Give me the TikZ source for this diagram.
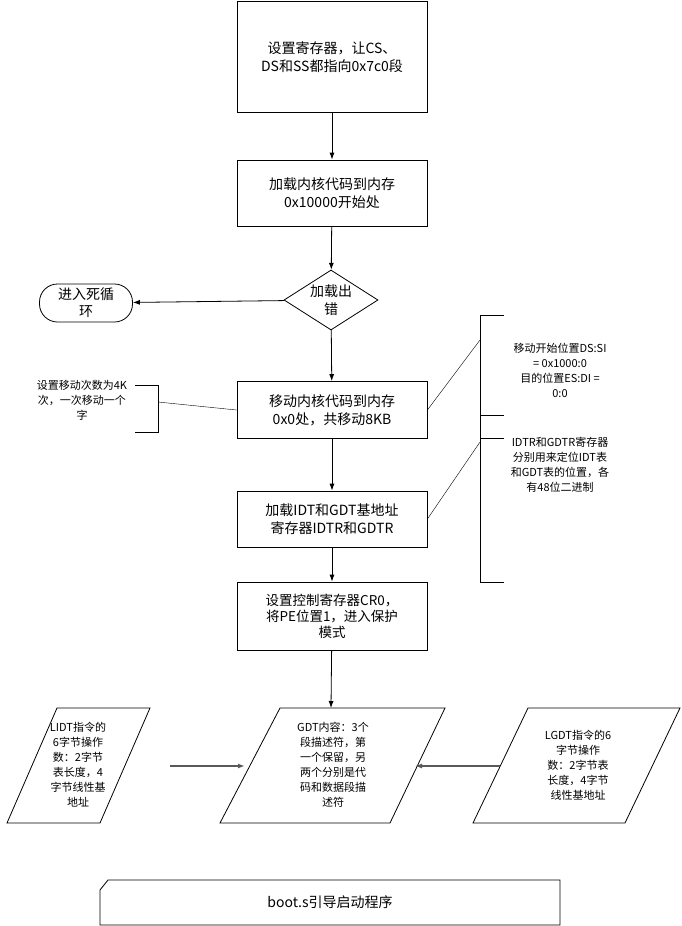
\documentclass[tikz,border=0pt]{standalone}
\usepackage{fontspec}
\setmainfont{Noto Sans CJK SC}
\usetikzlibrary{arrows.meta,shapes.geometric}
\begin{document}
\begin{tikzpicture}[x=1pt,y=-1pt,
 box/.style={draw,thick,align=center,font=\fontsize{14}{18}\selectfont},
 small/.style={align=center,font=\fontsize{11}{15}\selectfont},
 arr/.style={-{Latex[length=7pt,width=5pt]},thick},
 garr/.style={-{Latex[length=7pt,width=5pt]},draw=gray!70!black,line width=1.4pt}]
\useasboundingbox (0,0) rectangle (682,926);
\node[box,minimum width=190pt,minimum height=111pt] (b1) at (332,57) {设置寄存器，让CS、\\DS和SS都指向0x7c0段};
\node[box,minimum width=190pt,minimum height=66pt] (b2) at (332,193) {加载内核代码到内存\\0x10000开始处};
\node[draw,thick,diamond,aspect=1.6,minimum width=94pt,minimum height=60pt,inner sep=0pt,align=center,font=\fontsize{14}{18}\selectfont] (d) at (331,300) {加载出\\错};
\node[draw,thick,rounded corners=18pt,minimum width=93pt,minimum height=38pt,align=center,inner sep=1pt,font=\fontsize{14}{17}\selectfont] (t) at (86,303) {进入死循\\环};
\node[box,minimum width=190pt,minimum height=57pt] (b3) at (332,410) {移动内核代码到内存\\0x0处，共移动8KB};
\node[box,minimum width=190pt,minimum height=56pt] (b4) at (332,519) {加载IDT和GDT基地址\\寄存器IDTR和GDTR};
\node[box,minimum width=190pt,minimum height=68pt,font=\fontsize{13.5}{16}\selectfont] (b5) at (332,616) {设置控制寄存器CR0，\\将PE位置1，进入保护\\模式};
% parallelograms
\draw[thick] (7,823) -- (57,708) -- (150,708) -- (100,823) -- cycle;
\node[small] (p1) at (78,765) {LIDT指令的\\6字节操作\\数：2字节\\表长度，4\\字节线性基\\地址};
\draw[thick] (220,823) -- (280,708) -- (445,708) -- (390,823) -- cycle;
\node[small] (p2) at (333,765) {GDT内容：3个\\段描述符，第\\一个保留，另\\两个分别是代\\码和数据段描\\述符};
\draw[thick] (473,823) -- (528,708) -- (680,708) -- (625,823) -- cycle;
\node[small] (p3) at (578,765) {LGDT指令的6\\字节操作\\数：2字节表\\长度，4字节\\线性基地址};
\coordinate (p1e) at (170,766);
\coordinate (p2w) at (245,766);
\coordinate (p2e) at (415,766);
\coordinate (p3w) at (500,766);
\coordinate (p2n) at (331,708);
% bottom label
\draw[thick] (108,880) -- (560,880) -- (560,925) -- (100,925) -- (100,890) -- cycle;
\node[font=\fontsize{14}{18}\selectfont] (lbl) at (330,902) {boot.s引导启动程序};
% annotations
\node[small] (n1) at (82,400) {设置移动次数为4K\\次，一次移动一个\\字};
\draw[thick] (135,385) -- (158,385) -- (158,432) -- (135,432);
\coordinate (n1c) at (158,402);
\node[small] (n2) at (560,370) {移动开始位置DS:SI\\= 0x1000:0\\目的位置ES:DI =\\0:0};
\draw[thick] (504,315) -- (480,315) -- (480,438) -- (504,438);
\coordinate (n2c) at (480,340);
\node[small] (n3) at (560,465) {IDTR和GDTR寄存器\\分别用来定位IDT表\\和GDT表的位置，各\\有48位二进制};
\draw[thick] (504,415) -- (480,415) -- (480,582) -- (504,582);
\coordinate (n3c) at (480,442);
\draw (n1c) -- (b3.west);
\draw (b3.east) -- (n2c);
\draw (b4.east) -- (n3c);
% arrows
\draw[arr] (b1) -- (b2);
\draw[arr] (b2) -- (d);
\draw[arr] (d) -- (t);
\draw[arr] (d) -- (b3);
\draw[arr] (b3) -- (b4);
\draw[arr] (b4) -- (b5);
\draw[arr] (b5) -- (p2n);
\draw[garr] (p1e) -- (p2w);
\draw[garr] (p3w) -- (p2e);
\end{tikzpicture}
\end{document}
